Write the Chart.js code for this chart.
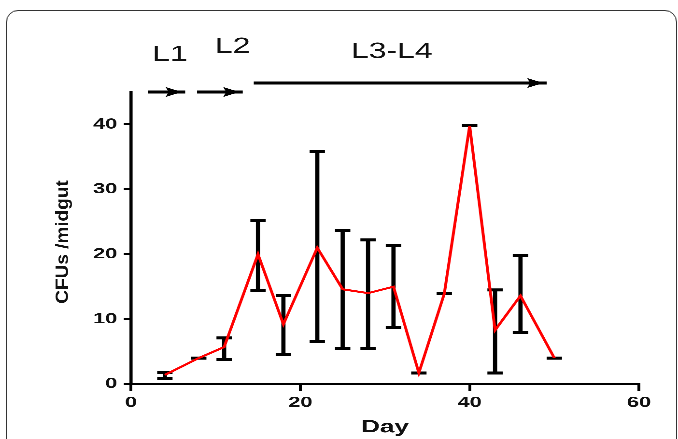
<!DOCTYPE html>
<html>
<head>
<meta charset="utf-8">
<script src="https://cdn.jsdelivr.net/npm/chart.js@4.4.1/dist/chart.umd.min.js"></script>
<style>
  html, body { margin:0; padding:0; background:#fff; width:678px; height:439px; overflow:hidden; }
  #frame { position:absolute; left:6px; top:10px; width:671px; height:520px; box-sizing:border-box;
           border:1.5px solid #333; border-radius:12px; }
  #wrap { position:absolute; left:0; top:0; width:468px; height:439px;
          transform:scaleX(1.44872); transform-origin:0 0; }
</style>
</head>
<body>
<div id="frame"></div>
<div id="wrap"><canvas id="c"></canvas></div>
<script>
// ---- data ----
const days     = [4, 8, 11, 15, 18, 22, 25, 28, 31, 34, 37, 40, 43, 46, 50];
const meanCFU  = [1.4, 4.0, 5.7, 20.0, 9.2, 21.0, 14.6, 14.0, 15.0, 1.7, 13.9, 39.8, 8.3, 13.6, 4.0];
const errHigh  = [1.8, 4.0, 7.1, 25.2, 13.6, 35.8, 23.6, 22.2, 21.4, 1.7, 13.9, 39.8, 14.5, 19.8, 4.0];
const errLow   = [0.9, 4.0, 3.8, 14.4, 4.6, 6.5, 5.5, 5.5, 8.7, 1.7, 13.9, 39.8, 1.7, 7.9, 4.0];
const xTicks   = [0, 20, 40, 60];
const yTicks   = [0, 10, 20, 30, 40];
const stages      = ['L1', 'L2', 'L3-L4'];
const stageStart  = [2.0, 7.8, 14.5];
const stageEnd    = [6.4, 13.2, 49.1];
const stageLabelX = [4.6, 12.0, 30.8];
const xTitle = 'Day';
const yTitle = 'CFUs /midgut';

const FONT = 'Liberation Sans, Arial, Helvetica, sans-serif';
const S = 678 / 468; // horizontal stretch of the whole picture

const overlay = {
  id: 'overlay',
  beforeDatasetsDraw(chart) {
    const {ctx, scales:{x, y}} = chart;
    ctx.save();
    ctx.strokeStyle = '#000';
    ctx.lineCap = 'butt';
    days.forEach((d, i) => {
      const px = x.getPixelForValue(d);
      const pH = y.getPixelForValue(errHigh[i]);
      const pL = y.getPixelForValue(errLow[i]);
      if (pL - pH > 0.5) {
        ctx.lineWidth = 2.9;
        ctx.beginPath(); ctx.moveTo(px, pH); ctx.lineTo(px, pL); ctx.stroke();
      }
      ctx.lineWidth = 3;
      ctx.beginPath();
      ctx.moveTo(px - 5.3, pH); ctx.lineTo(px + 5.3, pH);
      ctx.moveTo(px - 5.3, pL); ctx.lineTo(px + 5.3, pL);
      ctx.stroke();
    });
    ctx.restore();
  },
  afterDraw(chart) {
    const {ctx, scales:{x, y}} = chart;
    ctx.save();
    // stage arrows
    const arrowY = [92, 92, 83];
    const labelY = [61, 53, 58];
    ctx.fillStyle = '#000';
    ctx.strokeStyle = '#000';
    stages.forEach((s, i) => {
      const xs = x.getPixelForValue(stageStart[i]);
      const xe = x.getPixelForValue(stageEnd[i]);
      const ay = arrowY[i];
      ctx.lineWidth = 3;
      ctx.beginPath(); ctx.moveTo(xs, ay); ctx.lineTo(xe, ay); ctx.stroke();
      const tip = xe - 2.5;
      ctx.beginPath();
      ctx.moveTo(tip, ay);
      ctx.lineTo(tip - 11, ay - 5);
      ctx.lineTo(tip - 9, ay);
      ctx.lineTo(tip - 11, ay + 5);
      ctx.closePath();
      ctx.fill();
      ctx.font = '22px ' + FONT;
      ctx.fillStyle = '#111';
      ctx.textAlign = 'center';
      ctx.textBaseline = 'alphabetic';
      ctx.fillText(s, x.getPixelForValue(stageLabelX[i]), labelY[i]);
      ctx.fillStyle = '#000';
    });
    // y axis title
    ctx.translate(47, 242);
    ctx.rotate(-Math.PI / 2);
    ctx.scale(1, 0.66);
    ctx.font = 'bold 19px ' + FONT;
    ctx.fillStyle = '#111';
    ctx.textAlign = 'center';
    ctx.textBaseline = 'alphabetic';
    ctx.fillText(yTitle, 0, 0);
    ctx.restore();
  }
};

new Chart(document.getElementById('c'), {
  type: 'line',
  data: {
    datasets: [{
      data: days.map((d, i) => ({x: d, y: meanCFU[i]})),
      borderColor: '#ff0000',
      borderWidth: 2,
      pointRadius: 0,
      tension: 0,
      fill: false
    }]
  },
  options: {
    responsive: true,
    maintainAspectRatio: false,
    animation: false,
    devicePixelRatio: 3,
    layout: { padding: { top: 92, right: 468 - 639 / S, left: 0, bottom: 0 } },
    plugins: { legend: { display: false }, tooltip: { enabled: false } },
    scales: {
      x: {
        type: 'linear', min: 0, max: 60,
        afterBuildTicks: s => { s.ticks = xTicks.map(v => ({value: v})); },
        afterFit: s => { s.height = 55; },
        grid: { drawOnChartArea: false, drawTicks: true, tickLength: 7, lineWidth: 2, color: '#000' },
        border: { display: true, color: '#000', width: 2.2 },
        ticks: { font: { family: FONT, size: 15, weight: 'bold' }, color: '#111', padding: 3, maxRotation: 0 },
        title: { display: true, text: xTitle, font: { family: FONT, size: 18, weight: 'bold' }, color: '#111',
                 padding: { top: 0, bottom: 1 } }
      },
      y: {
        type: 'linear', min: 0, max: 45,
        afterBuildTicks: s => { s.ticks = yTicks.map(v => ({value: v})); },
        afterFit: s => { s.width = 131 / S; },
        grid: { drawOnChartArea: false, drawTicks: true, tickLength: 5, lineWidth: 2, color: '#000' },
        border: { display: true, color: '#000', width: 2.2 },
        ticks: { font: { family: FONT, size: 15, weight: 'bold' }, color: '#111', padding: 4.5 }
      }
    }
  },
  plugins: [overlay]
});
</script>
</body>
</html>
